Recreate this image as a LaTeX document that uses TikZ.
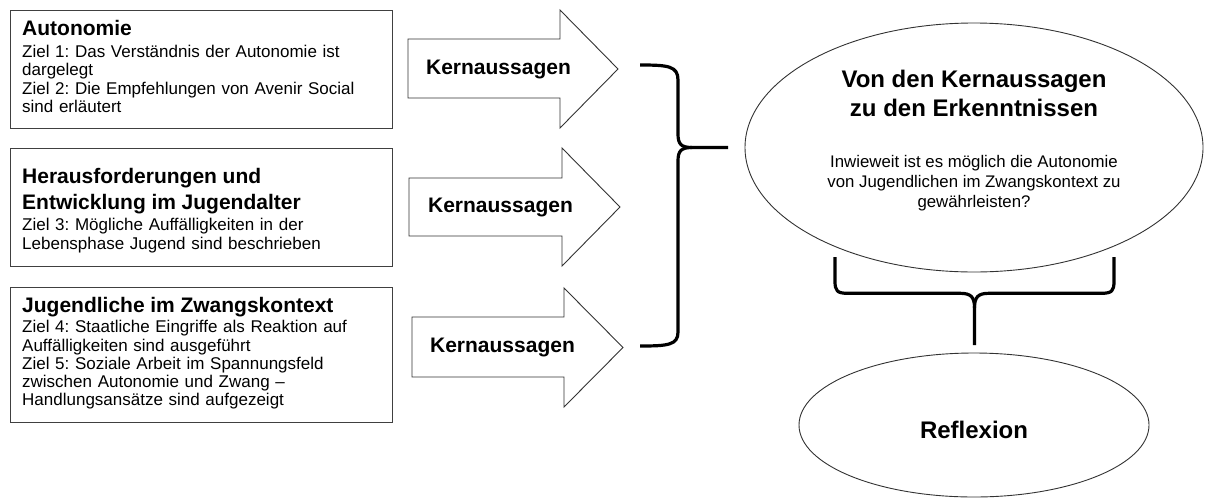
\documentclass[tikz,border=0pt]{standalone}
\usepackage{fontspec}
\setmainfont{Liberation Sans}
\usetikzlibrary{shapes.geometric}
\frenchspacing
\newcommand\boxhead[1]{{\fontsize{21}{24}\selectfont\bfseries #1}}
\begin{document}
\begin{tikzpicture}[x=1pt,y=-1pt,
  box/.style={draw=black!75, line width=1.3pt, rectangle, anchor=north west,
    inner sep=0pt, minimum width=382pt},
  boxtext/.style={anchor=north west, inner sep=0pt, text width=365pt,
    align=left, font=\fontsize{17}{18.3}\selectfont},
  arr/.style={draw=black!80, line width=0.9pt, fill=white, line join=miter},
  klabel/.style={font=\fontsize{21}{24}\selectfont\bfseries, inner sep=0pt},
  ell/.style={draw=black!80, line width=0.9pt, ellipse, inner sep=0pt},
  brace/.style={draw=black, line width=3.2pt, line join=round}
]
\useasboundingbox (0,0) rectangle (1207,499);

% left boxes
\node[box, minimum height=118pt] (b1) at (10,10) {};
\node[boxtext] (b1t) at (22,20.5) {%
\boxhead{Autonomie}\\[3.4pt]
Ziel 1: Das Verständnis der Autonomie ist\\
dargelegt\\
Ziel 2: Die Empfehlungen von Avenir Social\\
sind erläutert};

\node[box, minimum height=118pt] (b2) at (10,148) {};
\node[boxtext] (b2t) at (22,167.6) {%
\boxhead{Herausforderungen und}\\[5.7pt]
\boxhead{Entwicklung im Jugendalter}\\[3.3pt]
Ziel 3: Mögliche Auffälligkeiten in der\\
Lebensphase Jugend sind beschrieben};

\node[box, minimum height=135pt] (b3) at (10,287) {};
\node[boxtext] (b3t) at (22,296.6) {%
\boxhead{Jugendliche im Zwangskontext}\\[2.4pt]
Ziel 4: Staatliche Eingriffe als Reaktion auf\\
Auffälligkeiten sind ausgeführt\\
Ziel 5: Soziale Arbeit im Spannungsfeld\\
zwischen Autonomie und Zwang --\\
Handlungsansätze sind aufgezeigt};

% arrows
\draw[arr] (408,39) -- (560,39) -- (560,10) -- (618,69) -- (560,128) -- (560,98) -- (408,98) -- cycle;
\node[klabel] (k1) at (498.5,69) {Kernaussagen};
\draw[arr] (409,178) -- (562,178) -- (562,148) -- (620,207) -- (562,266) -- (562,236) -- (409,236) -- cycle;
\node[klabel] (k2) at (500.5,207) {Kernaussagen};
\draw[arr] (412,317) -- (564,317) -- (564,288) -- (623,347.5) -- (564,407) -- (564,377) -- (412,377) -- cycle;
\node[klabel] (k3) at (502.5,347.5) {Kernaussagen};

% big ellipse
\node[ell, minimum width=458pt, minimum height=249pt] (e1) at (974,147.5) {};
\node[font=\fontsize{24}{28.6}\selectfont\bfseries, align=center, inner sep=0pt] (t1) at (974,93.5) {Von den Kernaussagen\\zu den Erkenntnissen};
\node[font=\fontsize{16.8}{20}\selectfont, align=center, inner sep=0pt] (q1) at (974,183) {Inwieweit ist es möglich die Autonomie\\von Jugendlichen im Zwangskontext zu\\gewährleisten?};

% reflexion ellipse
\node[ell, minimum width=350pt, minimum height=144pt] (e2) at (974,425) {};
\node[font=\fontsize{24}{29}\selectfont\bfseries, inner sep=0pt] (r1) at (974,430) {Reflexion};

% vertical brace
\coordinate (bt) at (640,65);
\coordinate (bb) at (640,346);
\coordinate (bm) at (728,147.5);
\draw[brace] (bt) .. controls (668,65) and (678,66) .. (678,80) -- (678,134)
  .. controls (678,144) and (681,147.5) .. (692,147.5) -- (bm);
\draw[brace] (bb) .. controls (668,346) and (678,345) .. (678,332) -- (678,161)
  .. controls (678,151) and (681,147.5) .. (692,147.5);

% horizontal brace
\coordinate (cl) at (835,257);
\coordinate (cr) at (1114,257);
\coordinate (cm) at (974.5,345);
\draw[brace] (cl) -- (835,281) .. controls (835,291) and (837,293.3) .. (848,293.3) -- (960,293.3)
  .. controls (971,293.3) and (974.5,297) .. (974.5,308) -- (cm);
\draw[brace] (cr) -- (1114,281) .. controls (1114,291) and (1112,293.3) .. (1101,293.3) -- (989,293.3)
  .. controls (978,293.3) and (974.5,297) .. (974.5,308);
\end{tikzpicture}
\end{document}
